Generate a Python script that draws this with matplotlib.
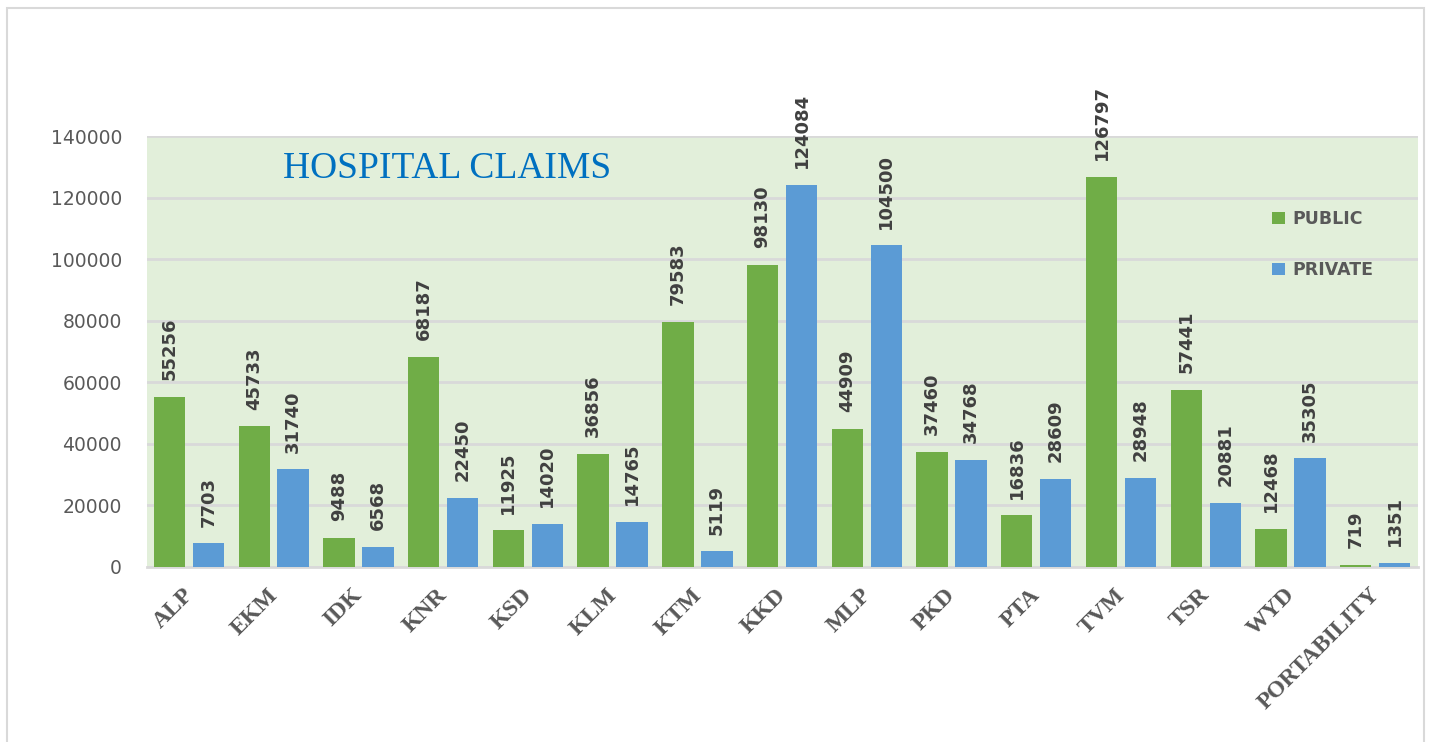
import numpy as np
import matplotlib
matplotlib.use("Agg")
import matplotlib.pyplot as plt
import matplotlib.transforms as mtransforms
from matplotlib.patches import Rectangle

districts = ['ALP', 'EKM', 'IDK', 'KNR', 'KSD', 'KLM', 'KTM', 'KKD', 'MLP',
             'PKD', 'PTA', 'TVM', 'TSR', 'WYD', 'PORTABILITY']
public = [55256, 45733, 9488, 68187, 11925, 36856, 79583, 98130, 44909,
          37460, 16836, 126797, 57441, 12468, 719]
private = [7703, 31740, 6568, 22450, 14020, 14765, 5119, 124084, 104500,
           34768, 28609, 28948, 20881, 35305, 1351]

green = '#70AD47'
blue = '#5B9BD5'
grey = '#595959'

fig = plt.figure(figsize=(14.31, 7.42), dpi=100)
ax = fig.add_axes([147/1431, 1 - 567/742, (1418-147)/1431, (567-136)/742])

# outer chart border
fig.patches.append(Rectangle((7/1431, -0.1), (1424-7)/1431, 1.1 - 8/742,
                             transform=fig.transFigure, fill=False,
                             edgecolor='#D9D9D9', lw=1.5, clip_on=False))

x = np.arange(len(districts))
w = 0.37
b1 = ax.bar(x - 0.235, public, w, color=green, label='PUBLIC', zorder=3)
b2 = ax.bar(x + 0.225, private, w, color=blue, label='PRIVATE', zorder=3)

for bars in (b1, b2):
    ax.bar_label(bars, padding=12, rotation=90, fontsize=13,
                 fontweight='bold', color='#404040')

ax.set_facecolor('#E2EFDA')
ax.set_xlim(-0.5, len(districts) - 0.5)
ax.set_ylim(0, 140000)
ax.set_yticks(np.arange(0, 140001, 20000))
ax.yaxis.grid(True, color='#D9D9D9', lw=2, zorder=0)
ax.set_axisbelow(True)
for s in ['left', 'right', 'top']:
    ax.spines[s].set_visible(False)
ax.spines['bottom'].set_color('#D9D9D9')
ax.spines['bottom'].set_linewidth(2)
ax.tick_params(axis='y', length=0, pad=18, labelsize=13.5, labelcolor=grey)
ax.tick_params(axis='x', length=0, pad=6)
ax.set_xticks(x)
ax.set_xticklabels(districts, rotation=45, ha='right', rotation_mode='anchor',
                   fontsize=17, fontweight='bold', family='Liberation Serif',
                   color=grey)
shift = mtransforms.ScaledTranslation(-7/100, -9/100, fig.dpi_scale_trans)
for lab in ax.get_xticklabels():
    lab.set_transform(lab.get_transform() + shift)

ax.text(0.107, 0.925, 'HOSPITAL CLAIMS', transform=ax.transAxes,
        fontsize=27, family='Liberation Serif', color='#0070C0',
        va='center', ha='left')

leg = ax.legend(loc='upper left', bbox_to_anchor=(0.878, 0.848), frameon=False,
                handlelength=0.75, handleheight=0.75, handletextpad=0.45,
                labelspacing=1.9, borderpad=0,
                prop={'size': 12.5, 'weight': 'bold'})
for t in leg.get_texts():
    t.set_color(grey)

fig.savefig('out.png', dpi=100)
